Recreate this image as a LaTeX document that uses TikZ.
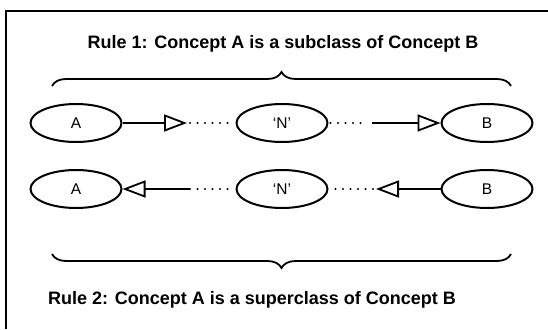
\documentclass[tikz,border=0pt]{standalone}
\usepackage{fontspec}
\setmainfont{Liberation Sans}
\usetikzlibrary{arrows.meta,positioning,shapes.geometric,decorations.pathreplacing}
\tikzset{
  concept/.style={draw, ellipse, line width=2pt, minimum width=91pt, minimum height=38pt,
    inner sep=0pt, font=\fontsize{15.5}{18}\selectfont},
  flow/.style={draw, line width=1.8pt, -{Triangle[open, length=23pt, width=17pt, line width=1.8pt]}},
  dotflow/.style={draw, line width=2.4pt, line cap=round, dash pattern=on 0pt off 7.5pt},
  rulebrace/.style={draw, line width=1.8pt, decorate, decoration={brace, amplitude=14pt}},
  title/.style={font=\bfseries\fontsize{18}{21}\selectfont, inner sep=0pt}
}
\begin{document}
\begin{tikzpicture}[x=1pt, y=-1pt]
    \useasboundingbox (0,0) rectangle (548,329);
    \draw[line width=2.6pt] (6,329) -- (6,11) -- (548,11);

    % Rule 1
    \node[title] (rule1) at (283,44) {Rule 1: Concept A is a subclass of Concept B};
    \draw[rulebrace] (52,86) -- (511,86);
    \node[concept] (a1) at (76,123) {A};
    \node[concept] (n1) at (282,123) {‘N’};
    \node[concept] (b1) at (487,123) {B};
    \coordinate (p1) at (187,123);
    \coordinate (q1) at (370,123);
    \draw[flow] (a1) -- (p1);
    \draw[dotflow, shorten <=3pt, shorten >=6pt] (p1) -- (n1);
    \draw[dotflow, shorten <=2pt, shorten >=2pt] (n1) -- (q1);
    \draw[flow, shorten <=2pt] (q1) -- (b1);

    % Rule 2
    \node[concept] (a2) at (76,189) {A};
    \node[concept] (n2) at (282,189) {‘N’};
    \node[concept] (b2) at (487,189) {B};
    \coordinate (r2) at (190,189);
    \coordinate (s2) at (376,189);
    \draw[flow] (r2) -- (a2);
    \draw[dotflow, shorten >=3pt] (r2) -- (n2);
    \draw[flow] (b2) -- (s2);
    \draw[dotflow, shorten <=3pt] (s2) -- (n2);
    \draw[rulebrace] (511,254) -- (52,254);
    \node[title] (rule2) at (252,300) {Rule 2: Concept A is a superclass of Concept B};
\end{tikzpicture}
\end{document}
